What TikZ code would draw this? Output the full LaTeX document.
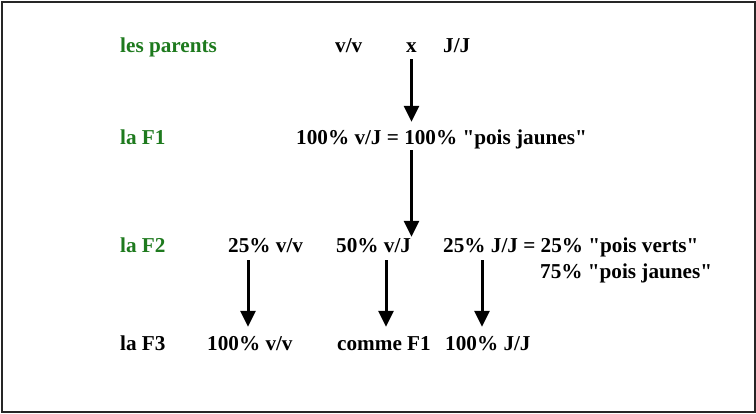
\documentclass[tikz,border=0pt]{standalone}
\usepackage{fontspec}
\setmainfont{Liberation Serif}
\usetikzlibrary{arrows.meta}
\definecolor{gen}{RGB}{30,122,30}
\newcommand{\qd}{\textquotedbl}
\tikzset{
  lbl/.style={anchor=base west, inner sep=0pt, text height=14pt, text depth=4pt,
    font=\fontsize{21.2}{25}\selectfont\bfseries},
  glbl/.style={lbl, text=gen},
  arr/.style={line width=3pt, -{Triangle[width=15pt,length=16pt]}}
}
\begin{document}
\begin{tikzpicture}[x=1pt,y=-1pt]
\useasboundingbox (0,0) rectangle (756,413);
\draw[line width=2pt, black!85] (1.5,1.5) rectangle (754.5,411.5);
% row parents
\node[glbl] (lp) at (120,52) {les parents};
\node[lbl] (pvv) at (335,52) {v/v};
\node[lbl, text height=9pt] (px) at (406,52) {x};
\node[lbl] (pjj) at (443,52) {J/J};
% row F1
\node[glbl] (lf1) at (120,144) {la F1};
\node[lbl] (f1) at (296,144) {100\% v/J = 100\% \qd pois jaunes\qd};
% row F2
\node[glbl] (lf2) at (120,252) {la F2};
\node[lbl] (a) at (228,252) {25\% v/v};
\node[lbl] (b) at (336,252) {50\% v/J};
\node[lbl] (c) at (443,252) {25\% J/J = 25\% \qd pois verts\qd};
\node[lbl] (d) at (540,278) {75\% \qd pois jaunes\qd};
% row F3
\node[lbl] (lf3) at (120,350) {la F3};
\node[lbl] (e) at (207,350) {100\% v/v};
\node[lbl] (f) at (337,350) {comme F1};
\node[lbl] (g) at (445,350) {100\% J/J};
% arrows
\draw[arr, shorten <=3pt, shorten >=8pt] (px.south) -- (px.south |- f1.north);
\draw[arr, shorten <=2pt, shorten >=1pt] (px.south |- f1.south) -- (px.south |- b.north);
\draw[arr, shorten <=4pt, shorten >=9pt] ([xshift=20pt]a.south west) -- ([xshift=20pt]a.south west |- e.north);
\draw[arr, shorten <=4pt, shorten >=9pt] ([xshift=50pt]b.south west) -- ([xshift=50pt]b.south west |- f.north);
\draw[arr, shorten <=4pt, shorten >=9pt] ([xshift=39pt]c.south west) -- ([xshift=39pt]c.south west |- g.north);
\end{tikzpicture}
\end{document}
